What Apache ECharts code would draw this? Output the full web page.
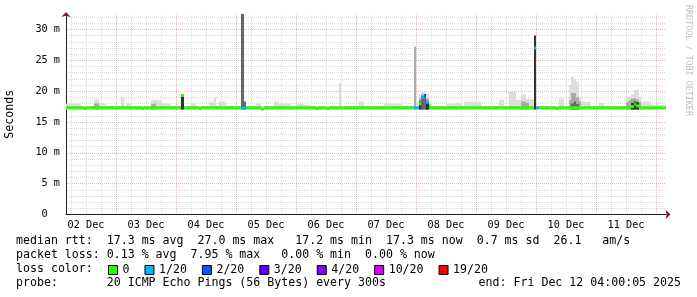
<!DOCTYPE html>
<html><head><meta charset="utf-8">
<script src="https://cdn.jsdelivr.net/npm/echarts@6/dist/echarts.min.js"></script>
<style>html,body{margin:0;padding:0;background:#fff}#c{width:697px;height:297px}</style>
</head><body><div id="c"></div>
<script>
// ---- data (1-hour bins starting Dec 2 04:00; hour axis = hours since Dec 2 00:00) ----
const firstHour = 4;
const dayLabels = ['02 Dec','03 Dec','04 Dec','05 Dec','06 Dec','07 Dec','08 Dec','09 Dec','10 Dec','11 Dec'];
const yTickLabels = ['0','5 m','10 m','15 m','20 m','25 m','30 m'];
const smokeFloor = 17.0;
// light smoke top (ms), one value per hour bin
const smokeLight = [
  18.0,18.0,18.0,18.0,18.0,18.0,17.6,17.6,17.6,17.6,17.6,18.7,18.7,18.0,18.0,18.0,17.6,17.6,17.6,17.6,17.6,17.6,19.1,17.6,
  18.0,18.0,17.6,17.6,17.6,17.6,17.6,17.6,17.6,17.6,18.5,18.5,18.5,18.5,18.0,18.0,18.0,18.0,17.7,17.7,17.7,17.7,19.4,17.6,
  17.6,17.6,18.0,18.0,17.6,17.6,17.6,17.6,17.6,18.3,18.3,19.0,17.7,18.3,18.3,18.3,17.6,17.6,17.6,17.6,17.6,17.6,18.3,18.3,
  17.6,17.6,17.6,17.6,18.0,18.0,17.6,17.6,17.6,17.6,17.6,18.3,18.3,18.0,18.0,18.0,18.0,18.0,17.6,17.6,17.9,17.9,17.9,17.8,
  17.8,17.8,17.6,17.6,17.6,17.6,17.6,17.6,17.6,17.6,17.6,17.6,17.6,21.3,17.6,17.6,17.6,17.6,17.6,17.6,17.6,18.3,18.3,17.6,
  17.6,17.6,17.6,17.6,17.6,17.6,17.6,18.0,18.0,18.0,18.0,18.0,18.0,18.0,17.6,17.6,17.6,17.6,17.6,17.6,18.3,19.5,19.8,19.8,
  19.5,18.2,17.6,17.6,17.6,17.6,17.6,17.6,18.0,18.0,18.0,18.0,18.0,18.0,17.7,18.3,18.3,18.3,18.3,18.3,18.3,18.3,17.6,17.6,
  17.6,17.6,17.6,17.6,17.6,18.6,18.6,17.6,17.6,19.9,19.9,19.9,18.6,18.6,19.4,19.4,18.7,18.7,18.7,17.6,17.6,17.6,17.6,17.6,
  17.6,17.6,17.6,17.6,17.6,18.8,18.8,17.6,17.6,21.0,22.3,22.0,21.5,19.0,18.3,18.3,18.3,18.3,17.6,17.6,17.6,18.1,18.1,17.6,
  17.6,17.6,17.6,17.6,17.6,17.6,17.6,17.6,18.9,19.1,19.5,20.2,20.2,19.0,18.3,18.3,18.3,18.3,17.8,17.8,17.8,17.8,17.8,17.8
];
// darker smoke bands: [bin, top]
const smokeMid = [[11,18.0],[12,18.0],[34,17.9],[35,18.0],[139,27.2],[141,18.8],[142,19.5],[143,19.5],[144,18.8],[145,17.8],
  [182,18.3],[183,18.3],[184,18.1],[201,18.5],[202,19.7],[203,19.7],[204,19.0],[205,18.3],
  [224,18.2],[225,18.5],[226,18.8],[227,18.9],[228,18.6],[229,18.2]];
const smokeDark = [[70,32.5],[71,18.3],[142,19.0],[143,19.3],[202,18.0],[203,18.3],[204,17.9]];
const smokeDarkest = [[46,19.3],[141,18.3],[144,18.3],[187,29.0],[226,18.1],[227,18.3],[228,18.2]];
// median rtt (ms), one value per hour bin
const median = [
  17.3,17.3,17.3,17.3,17.3,17.3,17.3,17.2,17.3,17.3,17.3,17.3,17.3,17.3,17.3,17.3,17.3,17.3,17.3,17.3,17.3,17.3,17.3,17.3,
  17.3,17.3,17.3,17.3,17.3,17.3,17.2,17.3,17.3,17.3,17.3,17.3,17.3,17.3,17.3,17.3,17.3,17.3,17.3,17.3,17.3,17.3,19.3,17.3,
  17.3,17.3,17.3,17.3,17.3,17.2,17.3,17.3,17.3,17.3,17.3,17.3,17.3,17.3,17.3,17.3,17.3,17.3,17.3,17.3,17.3,17.3,17.3,17.3,
  17.3,17.3,17.3,17.3,17.3,17.3,17.1,17.3,17.3,17.3,17.3,17.3,17.3,17.3,17.3,17.3,17.3,17.3,17.3,17.3,17.3,17.3,17.3,17.3,
  17.3,17.3,17.3,17.3,17.2,17.3,17.3,17.3,17.2,17.3,17.3,17.3,17.3,17.3,17.3,17.3,17.3,17.3,17.3,17.3,17.3,17.3,17.3,17.3,
  17.3,17.3,17.3,17.3,17.3,17.3,17.3,17.3,17.3,17.3,17.3,17.3,17.3,17.3,17.3,17.3,17.3,17.3,17.3,17.3,17.3,18.0,19.0,19.3,
  18.2,17.4,17.3,17.3,17.3,17.3,17.3,17.3,17.3,17.3,17.3,17.3,17.3,17.3,17.3,17.3,17.3,17.3,17.3,17.3,17.3,17.3,17.3,17.3,
  17.3,17.3,17.3,17.3,17.3,17.3,17.3,17.3,17.3,17.3,17.3,17.3,17.3,17.3,17.3,17.3,17.3,17.3,17.3,27.0,17.3,17.3,17.3,17.3,
  17.3,17.3,17.3,17.3,17.2,17.3,17.3,17.3,17.3,17.3,17.3,17.3,17.3,17.3,17.3,17.3,17.3,17.3,17.3,17.3,17.3,17.3,17.3,17.3,
  17.3,17.3,17.3,17.3,17.3,17.3,17.3,17.3,17.3,17.3,17.5,17.9,17.6,17.3,17.3,17.3,17.3,17.3,17.3,17.3,17.3,17.3,17.3,17.3
];
// packet loss per bin: [bin, loss class index] (all other bins: class 0)
const lossBins = [[70,1],[71,1],[139,1],[140,1],[142,1],[143,2],[144,1],[187,1],[188,1]];
const lossNames = ['0','1/20','2/20','3/20','4/20','10/20','19/20'];
const statsRtt = 'median rtt:  17.3 ms avg  27.0 ms max   17.2 ms min  17.3 ms now  0.7 ms sd  26.1   am/s';
const statsLoss = 'packet loss: 0.13 % avg  7.95 % max   0.00 % min  0.00 % now';
const probeText = 'probe:       20 ICMP Echo Pings (56 Bytes) every 300s';
const endText = 'end: Fri Dec 12 04:00:05 2025';

// ---- styles ----
const lossColors = ['#26ff00','#00b8ff','#0059ff','#5e00ff','#7e00ff','#dd00ff','#ff0000'];
const smokeColors = ['#dddddd','#aaaaaa','#666666','#333333'];
const MONO = "'DejaVu Sans Mono', monospace";
const MINOR = 'rgba(143,143,143,0.32)', MAJOR = 'rgba(222,79,79,0.42)', NONE = 'rgba(0,0,0,0)';

// ---- build series data ----
const nBins = smokeLight.length;
const sparse = (list) => { const a = new Array(nBins).fill(0); list.forEach(([b,v]) => a[b] = v); return a; };
const mid = sparse(smokeMid), dark = sparse(smokeDark), darkest = sparse(smokeDarkest);
const smokeRows = smokeLight.map((v,i) => [firstHour + i, smokeFloor, v, mid[i], dark[i], darkest[i]]);
const lossClass = new Array(nBins).fill(0); lossBins.forEach(([b,k]) => lossClass[b] = k);

function renderSmoke(params, api) {
  const h = api.value(0), base = api.value(1);
  const children = [];
  for (let d = 2; d <= 5; d++) {
    const top = api.value(d);
    if (!(top > base)) continue;
    const p0 = api.coord([h, top]), p1 = api.coord([h + 1, base]);
    const x0 = Math.round(p0[0]), x1 = Math.round(p1[0]);
    children.push({type:'rect', shape:{x:x0, y:p0[1], width:x1 - x0, height:p1[1] - p0[1]},
      style:{fill: smokeColors[d - 2]}});
  }
  return {type:'group', children};
}
function renderMedian(params, api) {
  const h = api.value(0), m = api.value(1);
  const p0 = api.coord([h, m]), p1 = api.coord([h + 1, m]);
  const x0 = Math.round(p0[0]), x1 = Math.round(p1[0]);
  return {type:'rect', shape:{x:x0, y:p0[1] - 1.5, width:x1 - x0, height:3},
    style:{fill: api.visual('color')}};
}

const series = [
  {type:'custom', name:'smoke', renderItem: renderSmoke, data: smokeRows, encode:{x:0, y:2}, z:1, silent:true}
];
for (let k = 0; k < lossNames.length; k++) {
  const data = [];
  median.forEach((m, i) => { if (lossClass[i] === k) data.push([firstHour + i, m]); });
  series.push({type:'custom', name: lossNames[k], renderItem: renderMedian, z: 3 + k, silent:true,
    itemStyle:{color: lossColors[k]}, encode:{x:0, y:1}, data});
}

const xMin = firstHour, xMax = firstHour + nBins;
// vertical grid cycle every 2h starting at 04:00 : 06,12,18 minor, 00 major
const xGridColors = [NONE, MINOR, NONE, NONE, MINOR, NONE, NONE, MINOR, NONE, NONE, MAJOR, NONE];
const gridPos = {left:66, right:31, top:14, bottom:82.5, outerBoundsMode:'none', containLabel:false};

const chart = echarts.init(document.getElementById('c'), null, {renderer:'canvas'});
const T = (text, pos) => Object.assign({text, padding:0,
  textStyle:{fontFamily:MONO, fontSize:11.6, fontWeight:'normal', color:'#000'}}, pos);
chart.setOption({
  animation:false,
  backgroundColor:'#ffffff',
  textStyle:{fontFamily: MONO},
  grid:[Object.assign({}, gridPos), Object.assign({}, gridPos)],
  title:[
    T(statsRtt, {left:16, top:235}),
    T(statsLoss, {left:16, top:249}),
    T('loss color:', {left:16, top:263}),
    T(probeText, {left:16, top:277}),
    T(endText, {right:16, top:277})
  ],
  legend:{data: lossNames, left:108, top:264, padding:0, itemWidth:9, itemHeight:9, itemGap:15,
    icon:'rect', itemStyle:{borderColor:'#000', borderWidth:1},
    textStyle:{fontFamily:MONO, fontSize:11.6, color:'#000'}, selectedMode:false},
  xAxis:[
    {type:'value', gridIndex:0, min:xMin, max:xMax, interval:2,
     axisLine:{show:true, onZero:false, lineStyle:{color:'#1f1f1f', width:1}},
     axisTick:{show:false},
     axisLabel:{show:true, margin:6, color:'#000', fontFamily:MONO, fontSize:10.2, hideOverlap:false,
       formatter:(v) => ((v - 12) % 24 === 0 ? (dayLabels[(v - 12) / 24] || '') : '')},
     splitLine:{show:true, lineStyle:{color: xGridColors, width:1, type:[1,1]}}},
    {type:'value', gridIndex:1, min:xMin, max:xMax, position:'bottom',
     axisLine:{show:true, onZero:false, symbol:['none','arrow'], symbolSize:[7,5], symbolOffset:[0,4.5],
       lineStyle:{color:'#801f1f', width:0}},
     axisTick:{show:false}, axisLabel:{show:false}, splitLine:{show:false}}
  ],
  yAxis:[
    {type:'value', gridIndex:0, min:0, max:32.5, interval:1,
     name:'Seconds', nameLocation:'middle', nameRotate:90, nameGap:50,
     nameTextStyle:{fontFamily:MONO, fontSize:11.6, color:'#000'},
     axisLine:{show:true, onZero:false, lineStyle:{color:'#1f1f1f', width:1}},
     axisTick:{show:false},
     axisLabel:{show:true, margin:6, color:'#000', fontFamily:MONO, fontSize:10.2, showMaxLabel:false,
       formatter:(v) => (v % 5 === 0 && yTickLabels[v / 5] !== undefined ? (v === 0 ? yTickLabels[0] + '  ' : yTickLabels[v / 5]) : '')},
     splitLine:{show:true, showMaxLine:false, lineStyle:{color:[MAJOR, MINOR, MINOR, MINOR, MINOR], width:1, type:[1,1]}}},
    {type:'value', gridIndex:1, min:0, max:32.5, position:'left',
     axisLine:{show:true, onZero:false, symbol:['none','arrow'], symbolSize:[7,5], symbolOffset:[0,2],
       lineStyle:{color:'#801f1f', width:0}},
     axisTick:{show:false}, axisLabel:{show:false}, splitLine:{show:false}}
  ],
  graphic:[
    {type:'text', x:684, y:5, rotation:-Math.PI/2,
     style:{text:'RRDTOOL / TOBI OETIKER', fill:'#c0c0c0', font:"8.4px 'DejaVu Sans Mono'", textAlign:'left', textVerticalAlign:'bottom'}}
  ],
  series: series
});
</script></body></html>
